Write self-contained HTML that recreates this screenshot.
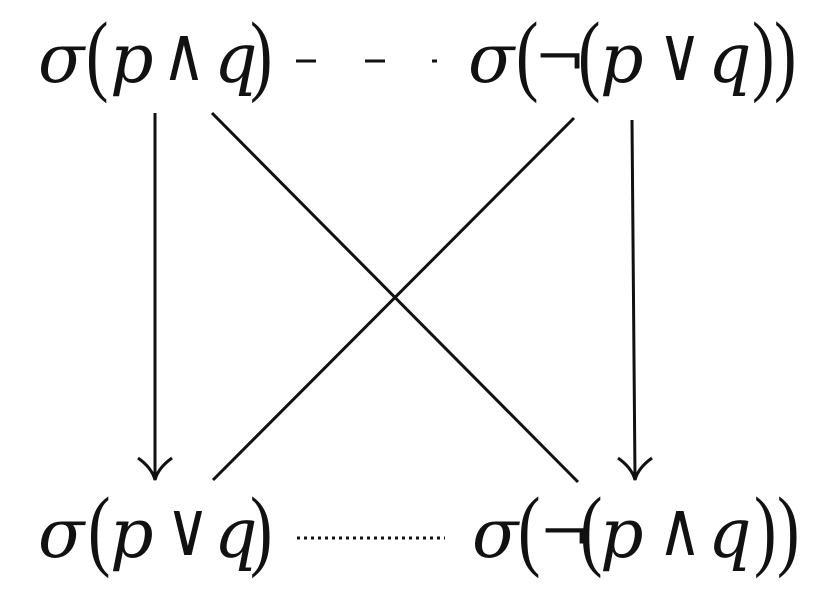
<!DOCTYPE html>
<html><head><style>html,body{margin:0;padding:0;background:#fff}</style></head><body>
<svg width="828" height="597" xmlns="http://www.w3.org/2000/svg">
<g font-family="'DejaVu Serif', 'Liberation Serif', serif" font-size="68" fill="#111" font-style="italic">
<text x="38" y="82">σ</text>
<text x="110" y="82">p</text>
<text x="214" y="82">q</text>
<text x="468" y="82">σ</text>
<text x="600" y="82">p</text>
<text x="708" y="82">q</text>

<text x="38" y="557">σ</text>
<text x="110" y="557">p</text>
<text x="214" y="557">q</text>
<text x="472" y="557">σ</text>
<text x="600" y="557">p</text>
<text x="708" y="557">q</text>
</g>
<g font-family="'DejaVu Serif', serif" fill="#111">
<g font-size="52">
<text transform="translate(162,80) scale(1.15,1.45)">∧</text>
<text transform="translate(658,80) scale(1.15,1.45)">∨</text>
<text transform="translate(166,555) scale(1.15,1.45)">∨</text>
<text transform="translate(658,555) scale(1.15,1.45)">∧</text>
</g>
<text transform="translate(534,76) scale(1.15,1)" font-size="54">¬</text>
<text transform="translate(539,551) scale(1.15,1)" font-size="54">¬</text>
<g font-size="90" font-family="'Liberation Serif', serif">
<text transform="translate(86,84) scale(0.75,1)">(</text>
<text transform="translate(250,84) scale(0.75,1)">)</text>
<text transform="translate(516,84) scale(0.75,1)">(</text>
<text transform="translate(578,84) scale(0.75,1)">(</text>
<text transform="translate(752,84) scale(0.75,1)">)</text>
<text transform="translate(774,84) scale(0.75,1)">)</text>
<text transform="translate(88,559) scale(0.75,1)">(</text>
<text transform="translate(250,559) scale(0.75,1)">)</text>
<text transform="translate(518,559) scale(0.75,1)">(</text>
<text transform="translate(580,559) scale(0.75,1)">(</text>
<text transform="translate(754,559) scale(0.75,1)">)</text>
<text transform="translate(777,559) scale(0.75,1)">)</text>
</g>
</g>
<g stroke="#111" stroke-width="3" fill="none">
<line x1="296" y1="61" x2="316" y2="61"/>
<line x1="365" y1="61" x2="385" y2="61"/>
<line x1="432" y1="61" x2="437" y2="61"/>
<line x1="297" y1="538" x2="445" y2="538" stroke-dasharray="3,4"/>
<line x1="155" y1="113" x2="155" y2="478"/>
<path d="M138 458 Q152 468 155 480 Q158 468 172 458"/>
<line x1="632" y1="120" x2="635" y2="478"/>
<path d="M618 458 Q632 468 635 480 Q638 468 652 458"/>
<line x1="212" y1="113" x2="578" y2="482"/>
<line x1="574" y1="118" x2="213" y2="480"/>
</g>
</svg>
</body></html>
